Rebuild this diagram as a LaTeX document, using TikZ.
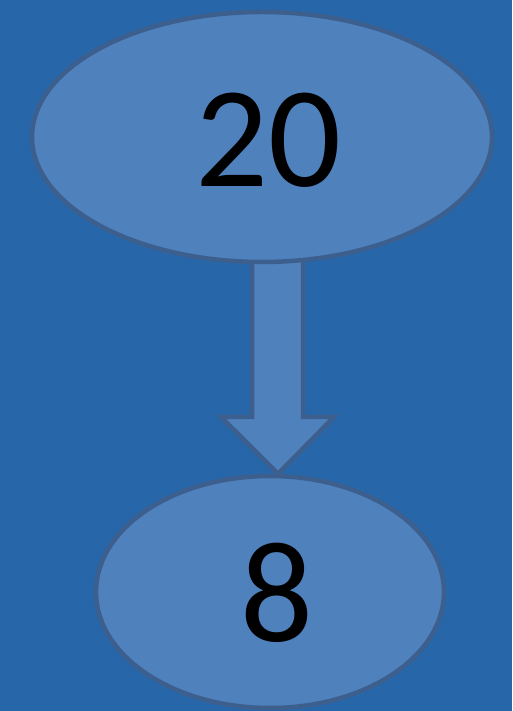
\documentclass[tikz,border=0pt]{standalone}
\usepackage{fontspec}
\setmainfont{Carlito}
\usetikzlibrary{shapes.geometric,backgrounds}
\definecolor{bg}{HTML}{2767A9}
\definecolor{fillc}{HTML}{4F81BD}
\definecolor{edge}{HTML}{3C5F8E}
\tikzset{
  oval/.style={ellipse, draw=edge, fill=fillc, line width=4.5pt, inner sep=0pt},
  numtext/.style={font=\fontsize{144}{146}\selectfont, text=black, inner sep=0pt},
  bigarrow/.style={draw=edge, fill=fillc, line width=4.5pt, line join=miter}
}
\begin{document}
\begin{tikzpicture}[x=1pt,y=1pt]
\useasboundingbox (0,0) rectangle (512,711);
\node[oval, minimum width=460pt, minimum height=250pt] (a) at (262,574) {};
\node[oval, minimum width=348pt, minimum height=232pt] (b) at (270,119) {};
\node[numtext] (ta) at (268,571) {20};
\node[numtext] (tb) at (277,118) {8};
\begin{scope}[on background layer]
\fill[bg] (0,0) rectangle (512,711);
\coordinate (tip) at (b.north -| 278,0);
\draw[bigarrow] (252,480) -- (252,294) -- (221,294) -- (tip) -- (334,294) -- (303,294) -- (303,480) -- cycle;
\end{scope}
\end{tikzpicture}
\end{document}
